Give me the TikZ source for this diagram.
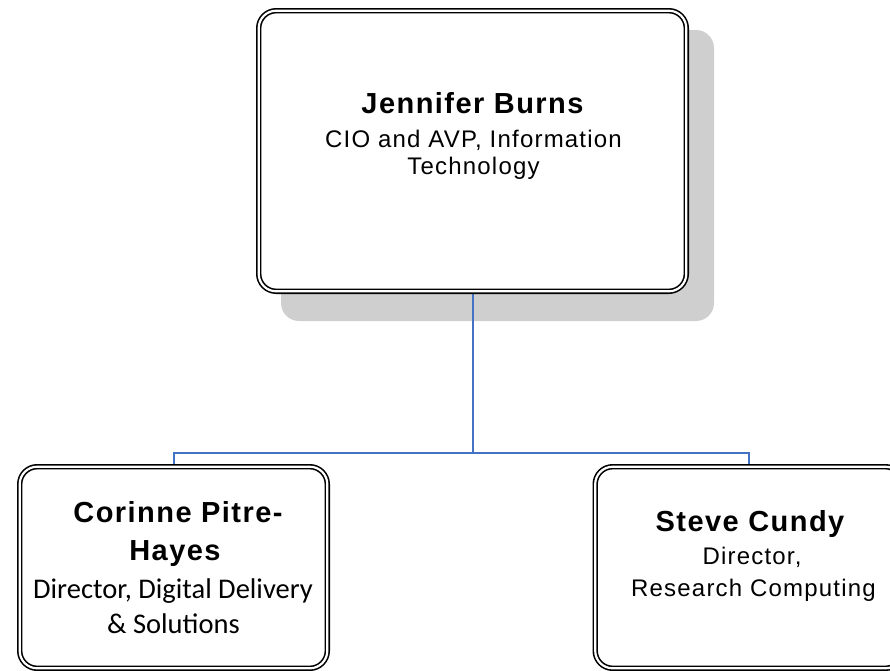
\documentclass[tikz,border=0pt]{standalone}
\usepackage{fontspec}
\setmainfont{Liberation Sans}
\newfontfamily\namefont[LetterSpace=5]{Liberation Sans}
\newfontfamily\rolefont[LetterSpace=5]{Liberation Sans}
\newfontfamily\calfont{Carlito}
\usetikzlibrary{backgrounds}
\definecolor{connblue}{RGB}{68,114,196}
\definecolor{shadowgray}{RGB}{207,207,207}
\begin{document}
\begin{tikzpicture}[x=1pt,y=-1pt,
  orgbox/.style={draw=black, double=white, line width=1.6pt, double distance=2.2pt,
    fill=white, rounded corners=17.5pt, inner sep=0pt, outer sep=0pt},
  nametext/.style={anchor=base, inner sep=0pt, font=\namefont\bfseries\fontsize{29}{31}\selectfont},
  roletext/.style={anchor=base, inner sep=0pt, font=\rolefont\fontsize{24}{26}\selectfont},
  caltext/.style={anchor=base, inner sep=0pt, font=\calfont\fontsize{28.5}{31}\selectfont},
  conn/.style={draw=connblue, line width=2pt}]
\useasboundingbox (0,0) rectangle (890,670);

% boxes
\node[orgbox, minimum width=427.6pt, minimum height=280.6pt] (top) at (472.5,151) {};
\node[orgbox, minimum width=307.6pt, minimum height=201.6pt] (left) at (173.5,567.5) {};
\node[orgbox, minimum width=307.6pt, minimum height=201.6pt] (right) at (749,567.5) {};

\begin{scope}[on background layer]
  \fill[shadowgray, rounded corners=18pt] (281,30) rectangle (714,321);
  \coordinate (bus) at (472.5,452.5);
  \draw[conn] (top.south) -- (bus);
  \draw[conn] (left.north) |- (bus) -| (right.north);
\end{scope}

% texts
\node[nametext] (jb1) at (472.5,113) {Jennifer Burns};
\node[roletext] (jb2) at (473.5,147.5) {CIO and AVP, Information};
\node[roletext] (jb3) at (473.5,174) {Technology};

\node[nametext] (cp1) at (178,522.5) {Corinne Pitre-};
\node[nametext] (cp2) at (175,560.5) {Hayes};
\node[caltext] (cp3) at (173,598) {Director, Digital Delivery};
\node[caltext] (cp4) at (173.5,633) {\& Solutions};

\node[nametext] (sc1) at (750,531.5) {Steve Cundy};
\node[roletext] (sc2) at (752,564) {Director,};
\node[roletext] (sc3) at (753.5,596.5) {Research Computing};
\end{tikzpicture}
\end{document}
